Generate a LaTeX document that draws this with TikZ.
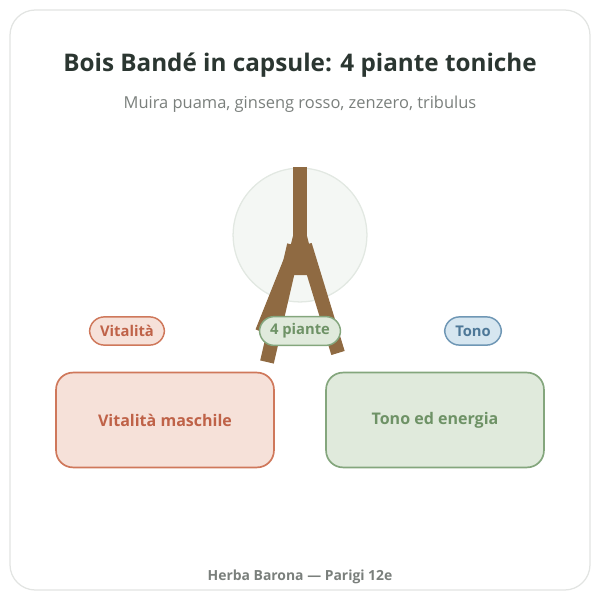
\documentclass[tikz,border=0pt]{standalone}
\usepackage{fontspec}
\setmainfont{Open Sans}
\usepackage{tikz}
\usetikzlibrary{positioning}
\definecolor{ink}{HTML}{2B3631}
\definecolor{subgray}{HTML}{7A7F7C}
\definecolor{frame}{HTML}{E2E4E2}
\definecolor{bark}{HTML}{8F6A42}
\definecolor{disc}{HTML}{F4F7F4}
\definecolor{discline}{HTML}{E2E8E2}
\definecolor{rust}{HTML}{CF785B}
\definecolor{rustbg}{HTML}{F6E1D9}
\definecolor{rusttext}{HTML}{BF6248}
\definecolor{sage}{HTML}{84A67D}
\definecolor{sagebg}{HTML}{E0EADC}
\definecolor{sagetext}{HTML}{6E9266}
\definecolor{slate}{HTML}{6F97B5}
\definecolor{slatebg}{HTML}{D6E6F0}
\definecolor{slatetext}{HTML}{4E7898}
\tikzset{
  panel/.style={rectangle, rounded corners=8pt, line width=0.8pt,
    minimum width=3.63cm, minimum height=1.58cm, align=center,
    font=\fontsize{7.6}{9}\selectfont\bfseries},
  pill/.style={rectangle, rounded corners=7pt, line width=0.7pt,
    minimum height=0.47cm, inner xsep=5pt, font=\fontsize{7}{8}\selectfont\bfseries},
  leg/.style={draw=bark, line width=6.6pt},
}
\begin{document}
\begin{tikzpicture}[x=0.016667cm, y=-0.016667cm]
\useasboundingbox (0,0) rectangle (600,600);
\draw[frame, line width=0.6pt, rounded corners=12pt] (10,10) rectangle (590,590);

\node[text=ink, font=\fontsize{11.5}{14}\selectfont\bfseries] (title) at (300,65) {Bois Bandé in capsule: 4 piante toniche};
\node[text=subgray, font=\fontsize{7.8}{10}\selectfont] (sub) at (300,104) {Muira puama, ginseng rosso, zenzero, tribulus};

% emblem
\node[circle, fill=disc, draw=discline, line width=0.6pt, minimum size=2.23cm] (disc) at (300,235) {};
\draw[leg] (300,167) -- (300,240);
\fill[bark] (293,236) -- (307,236) -- (317,275) -- (283,275) -- cycle;
\draw[leg] (294,245) -- (267,362);
\draw[leg] (290,262) -- (262,332);
\draw[leg] (305,245) -- (338,353);

\node[pill, fill=rustbg, draw=rust, text=rusttext] (vit) at (127,331) {Vitalità};
\node[pill, fill=sagebg, draw=sage, text=sagetext] (four) at (300,331) {4 piante};
\node[pill, fill=slatebg, draw=slate, text=slatetext] (tono) at (473,331) {Tono};

\node[panel, fill=rustbg, draw=rust, text=rusttext] (male) at (165,420) {Vitalità maschile};
\node[panel, fill=sagebg, draw=sage, text=sagetext] (energy) at (435,420) {Tono ed energia};

\node[text=subgray, font=\fontsize{6.6}{8}\selectfont\bfseries] (foot) at (300,577) {Herba Barona — Parigi 12e};
\end{tikzpicture}
\end{document}
